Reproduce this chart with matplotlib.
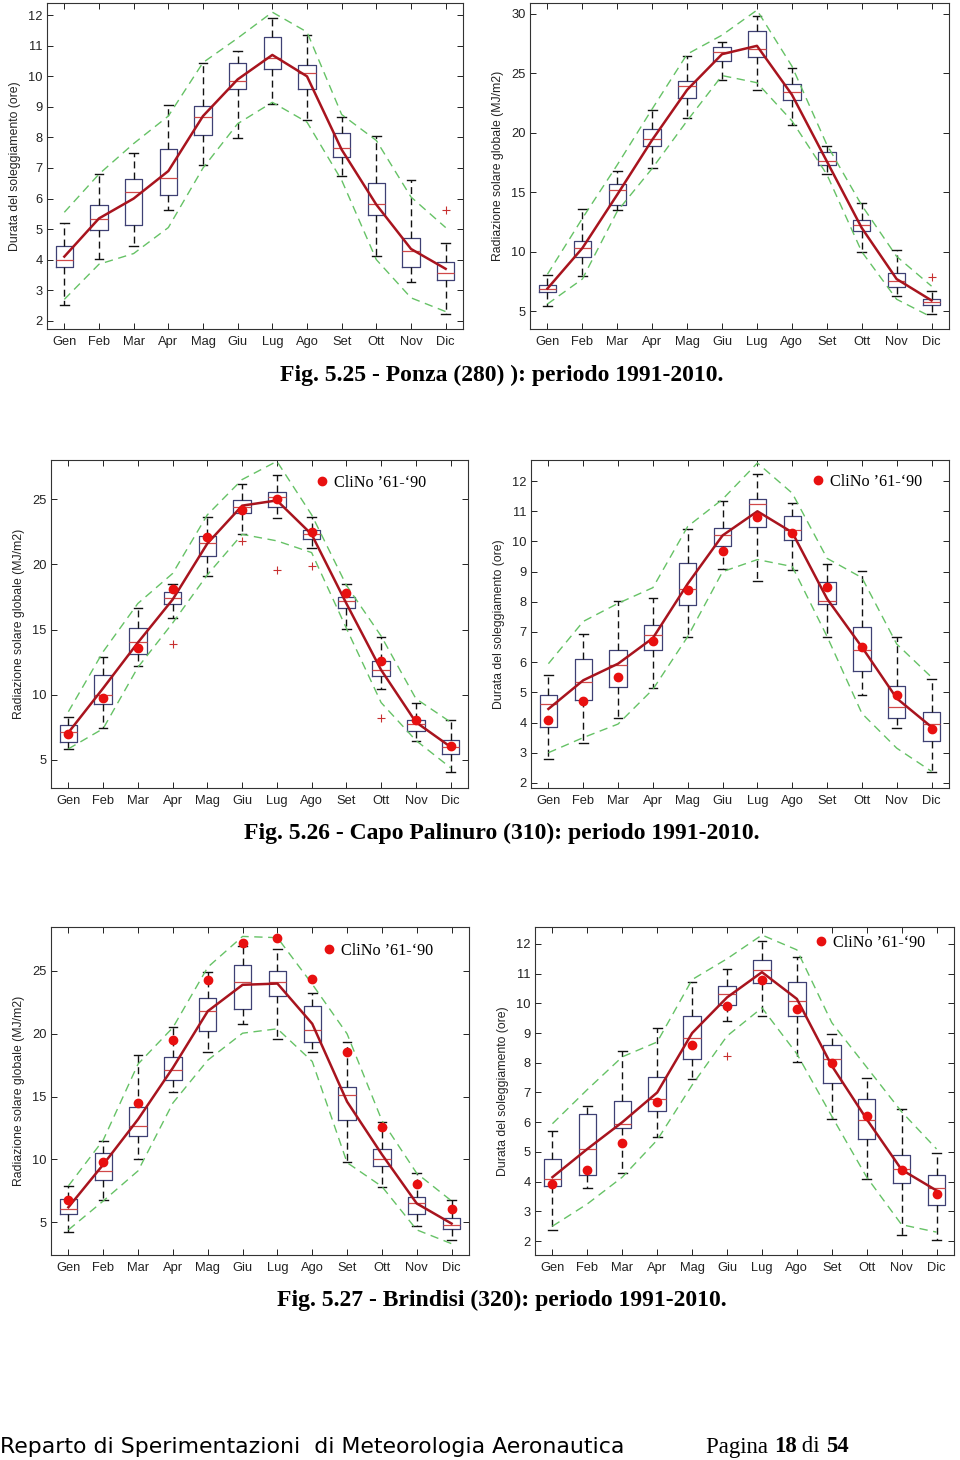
import numpy as np
import matplotlib
matplotlib.use("Agg")
import matplotlib.pyplot as plt

mesi = ['Gen', 'Feb', 'Mar', 'Apr', 'Mag', 'Giu', 'Lug', 'Ago', 'Set', 'Ott', 'Nov', 'Dic']

# ---- Ponza, soleggiamento (ore)
ponza_ore_wlo = [2.5, 4.02, 4.45, 5.61, 7.1, 7.99, 9.08, 8.57, 6.74, 4.13, 3.26, 2.23]
ponza_ore_q1 = [3.75, 4.98, 5.13, 6.12, 8.07, 9.57, 10.23, 9.6, 7.37, 5.47, 3.75, 3.32]
ponza_ore_med = [4.0, 5.33, 6.2, 6.67, 8.67, 9.86, 10.6, 10.11, 7.65, 5.81, 4.29, 3.55]
ponza_ore_q3 = [4.45, 5.8, 6.64, 7.62, 9.04, 10.43, 11.28, 10.38, 8.16, 6.51, 4.7, 3.92]
ponza_ore_whi = [5.21, 6.8, 7.5, 9.05, 10.42, 10.82, 11.91, 11.35, 8.67, 8.04, 6.61, 4.55]
ponza_ore_media = [4.1, 5.35, 6.0, 6.9, 8.7, 9.9, 10.7, 10.0, 7.6, 5.8, 4.35, 3.7]
ponza_ore_sup = [5.55, 6.8, 7.8, 8.7, 10.45, 11.25, 12.1, 11.45, 8.75, 7.9, 6.05, 5.05]
ponza_ore_inf = [2.7, 3.85, 4.2, 5.05, 7.0, 8.45, 9.15, 8.5, 6.6, 4.0, 2.75, 2.3]
ponza_ore_out = [(12, 5.63)]

# ---- Ponza, radiazione (MJ/m2)
ponza_rad_wlo = [5.45, 7.96, 13.54, 17.05, 21.24, 24.39, 23.58, 20.65, 16.55, 9.99, 6.31, 4.78]
ponza_rad_q1 = [6.59, 9.52, 13.96, 18.9, 22.91, 26.04, 26.37, 22.77, 17.25, 11.72, 7.0, 5.5]
ponza_rad_med = [6.84, 10.33, 15.21, 19.43, 23.89, 26.79, 27.07, 23.44, 17.61, 12.2, 7.57, 5.81]
ponza_rad_q3 = [7.18, 10.92, 15.69, 20.32, 24.34, 27.24, 28.52, 24.11, 18.34, 12.67, 8.21, 6.06]
ponza_rad_whi = [8.04, 13.57, 16.77, 21.88, 26.46, 27.66, 29.78, 25.4, 18.87, 14.1, 10.1, 6.67]
ponza_rad_media = [6.9, 10.3, 14.8, 19.4, 23.6, 26.6, 27.3, 23.2, 17.6, 12.0, 7.7, 5.9]
ponza_rad_sup = [8.1, 12.8, 17.3, 22.0, 26.6, 28.2, 30.3, 25.6, 19.0, 13.9, 9.6, 7.1]
ponza_rad_inf = [5.6, 7.7, 13.4, 17.0, 21.0, 24.8, 24.2, 21.0, 16.5, 10.0, 6.0, 4.5]
ponza_rad_out = [(12, 7.9)]

# ---- Capo Palinuro, radiazione (MJ/m2)
palinuro_rad_wlo = [5.87, 7.45, 12.19, 15.87, 19.13, 22.3, 23.57, 21.22, 15.05, 10.41, 6.48, 4.06]
palinuro_rad_q1 = [6.38, 9.29, 13.14, 16.94, 20.61, 23.9, 24.41, 21.94, 16.63, 11.43, 7.19, 5.46]
palinuro_rad_med = [7.12, 10.0, 14.08, 17.4, 21.66, 24.41, 25.2, 22.35, 17.22, 11.89, 7.76, 6.0]
palinuro_rad_q3 = [7.65, 11.48, 15.08, 17.86, 22.19, 24.95, 25.56, 22.6, 17.53, 12.6, 8.04, 6.51]
palinuro_rad_whi = [8.27, 12.88, 16.63, 18.5, 23.65, 26.17, 26.84, 23.65, 18.5, 14.46, 9.39, 8.09]
palinuro_rad_media = [7.1, 10.5, 14.0, 17.3, 21.6, 24.5, 24.9, 22.3, 17.0, 11.9, 7.9, 6.0]
palinuro_rad_sup = [8.7, 13.3, 17.0, 19.3, 23.8, 26.5, 27.9, 23.8, 18.4, 14.5, 9.7, 7.9]
palinuro_rad_inf = [5.85, 7.4, 12.1, 15.5, 19.2, 22.3, 21.8, 20.9, 15.1, 9.4, 6.5, 4.4]
palinuro_rad_out = [(4, 13.88), (6, 21.79), (7, 19.57), (8, 19.9), (10, 8.21)]
palinuro_rad_clino = [7.02, 9.72, 13.6, 18.14, 22.12, 24.13, 25.0, 22.47, 17.83, 12.6, 8.09, 6.07]

# ---- Capo Palinuro, soleggiamento (ore)
palinuro_ore_wlo = [2.8, 3.31, 4.16, 5.14, 6.85, 9.1, 8.69, 9.06, 6.84, 4.92, 3.82, 2.35]
palinuro_ore_q1 = [3.84, 4.73, 5.18, 6.41, 7.88, 9.85, 10.49, 10.05, 7.92, 5.72, 4.15, 3.38]
palinuro_ore_med = [4.61, 5.33, 5.89, 6.91, 8.42, 10.21, 11.24, 10.38, 8.03, 6.39, 4.5, 3.95]
palinuro_ore_q3 = [4.9, 6.1, 6.41, 7.24, 9.3, 10.46, 11.42, 10.85, 8.67, 7.17, 5.2, 4.35]
palinuro_ore_whi = [5.58, 6.94, 8.03, 8.14, 10.41, 11.33, 12.22, 11.29, 9.24, 9.01, 6.85, 5.45]
palinuro_ore_media = [4.45, 5.4, 5.95, 6.8, 8.6, 10.2, 11.0, 10.3, 8.1, 6.5, 4.8, 3.85]
palinuro_ore_sup = [5.95, 7.35, 7.95, 8.47, 10.5, 11.4, 12.6, 11.6, 9.44, 8.8, 6.6, 5.5]
palinuro_ore_inf = [3.0, 3.5, 3.95, 5.1, 6.85, 9.0, 9.4, 9.17, 6.85, 4.3, 3.15, 2.38]
palinuro_ore_out = []
palinuro_ore_clino = [4.09, 4.7, 5.5, 6.71, 8.39, 9.68, 10.8, 10.29, 8.5, 6.5, 4.9, 3.8]

# ---- Brindisi, radiazione (MJ/m2)
brindisi_rad_wlo = [4.26, 6.75, 10.04, 15.4, 18.53, 20.81, 19.59, 18.55, 9.83, 7.79, 4.73, 3.62]
brindisi_rad_q1 = [5.69, 8.4, 11.9, 16.33, 20.23, 21.95, 23.01, 19.38, 13.17, 9.51, 5.69, 4.47]
brindisi_rad_med = [6.09, 9.11, 12.64, 17.1, 21.84, 24.15, 24.15, 20.31, 15.13, 10.07, 6.51, 4.81]
brindisi_rad_q3 = [6.86, 10.52, 14.15, 18.16, 22.88, 25.48, 25.03, 22.21, 15.77, 10.81, 7.02, 5.32]
brindisi_rad_whi = [7.92, 11.45, 18.29, 20.52, 24.92, 26.96, 26.78, 23.28, 19.38, 12.98, 8.9, 6.75]
brindisi_rad_media = [6.2, 9.6, 13.2, 17.3, 21.8, 23.9, 24.0, 20.8, 14.6, 10.4, 6.5, 4.9]
brindisi_rad_sup = [7.9, 11.55, 17.6, 20.5, 25.3, 27.75, 27.65, 23.95, 20.0, 13.1, 8.9, 6.7]
brindisi_rad_inf = [4.4, 6.7, 9.1, 14.5, 17.9, 20.05, 20.4, 17.8, 9.75, 7.85, 4.4, 3.3]
brindisi_rad_out = []
brindisi_rad_clino = [6.8, 9.8, 14.47, 19.5, 24.31, 27.23, 27.63, 24.39, 18.53, 12.56, 8.08, 6.09]

# ---- Brindisi, soleggiamento (ore)
brindisi_ore_wlo = [2.36, 3.79, 4.28, 5.51, 7.47, 9.39, 9.58, 8.02, 6.1, 4.09, 2.2, 2.03]
brindisi_ore_q1 = [3.86, 4.23, 5.79, 6.39, 8.14, 9.93, 10.67, 9.58, 7.33, 5.45, 3.97, 3.2]
brindisi_ore_med = [4.1, 5.1, 5.93, 6.78, 8.85, 10.33, 11.11, 10.09, 8.14, 6.07, 4.41, 3.79]
brindisi_ore_q3 = [4.77, 6.29, 6.71, 7.53, 9.57, 10.57, 11.47, 10.73, 8.6, 6.79, 4.88, 4.23]
brindisi_ore_whi = [5.71, 6.56, 8.4, 9.17, 10.73, 11.16, 12.1, 11.57, 8.96, 7.49, 6.43, 4.98]
brindisi_ore_media = [4.15, 5.1, 6.0, 7.0, 9.0, 10.2, 11.05, 10.15, 7.9, 6.1, 4.4, 3.7]
brindisi_ore_sup = [5.95, 7.1, 8.2, 8.7, 10.8, 11.5, 12.3, 11.8, 9.35, 7.85, 6.35, 5.1]
brindisi_ore_inf = [2.5, 3.25, 4.15, 5.4, 7.25, 8.9, 9.85, 8.3, 6.2, 4.15, 2.55, 2.3]
brindisi_ore_out = [(6, 8.22)]
brindisi_ore_clino = [3.91, 4.4, 5.31, 6.69, 8.6, 9.9, 10.8, 9.8, 8.0, 6.2, 4.39, 3.6]

didascalie = ['Fig. 5.25 - Ponza (280) ): periodo 1991-2010.',
              'Fig. 5.26 - Capo Palinuro (310): periodo 1991-2010.',
              'Fig. 5.27 - Brindisi (320): periodo 1991-2010.']
lab_ore = 'Durata del soleggiamento (ore)'
lab_rad = 'Radiazione solare globale (MJ/m2)'
leg_clino = 'CliNo \u201961-\u201890'

W, H = 960, 1460
fig = plt.figure(figsize=(W / 100, H / 100), dpi=100)
fig.patch.set_facecolor('white')


def pannello(px, wlo, q1, med, q3, whi, media, sup, inf, out, ylim, yticks, ylabel,
             clino=None, legpos=None):
    x0, y0, x1, y1 = px
    ax = fig.add_axes([x0 / W, (H - y1) / H, (x1 - x0) / W, (y1 - y0) / H])
    x = np.arange(1, 13)
    stats = []
    for i in range(12):
        fl = [v for (m, v) in out if m == i + 1]
        stats.append(dict(whislo=wlo[i], q1=q1[i], med=med[i], q3=q3[i], whishi=whi[i], fliers=fl))
    ax.bxp(stats, positions=x, widths=0.5, capwidths=0.25, manage_ticks=False,
           boxprops=dict(color='#3e4074', lw=0.9),
           medianprops=dict(color='#d04848', lw=0.9),
           whiskerprops=dict(color='#111111', lw=1.0, linestyle=(0, (5, 3))),
           capprops=dict(color='#111111', lw=1.0),
           flierprops=dict(marker='+', markeredgecolor='#c83030', markersize=6, markeredgewidth=0.8))
    ax.plot(x, sup, color='#66c266', lw=1.0, dashes=(6, 4))
    ax.plot(x, inf, color='#66c266', lw=1.0, dashes=(6, 4))
    ax.plot(x, media, color='#a8141e', lw=1.8, zorder=4)
    if clino is not None:
        ax.plot(x, clino, 'o', color='#e81010', markersize=6, zorder=5, label=leg_clino)
        # legend anchored so the dot lands where it is in the page
        dx, dy = legpos
        fx = (dx - 6 - x0) / (x1 - x0)
        fy = (y1 - dy) / (y1 - y0)
        ax.legend(loc='center left', bbox_to_anchor=(fx, fy), frameon=False, numpoints=1,
                  handletextpad=0.3, borderpad=0, borderaxespad=0, handlelength=0.8,
                  prop=dict(family='Liberation Serif', size=11.6))
    ax.set_xlim(0.5, 12.5)
    ax.set_ylim(*ylim)
    ax.set_xticks(x, mesi)
    ax.set_yticks(yticks)
    ax.tick_params(direction='in', top=True, right=True, length=4, width=0.7,
                   labelsize=9.3, colors='#222222', pad=3)
    ax.tick_params(axis='x', pad=5)
    for lab in ax.get_xticklabels() + ax.get_yticklabels():
        lab.set_family('Liberation Sans')
    for s in ax.spines.values():
        s.set_color('#333333')
        s.set_linewidth(0.8)
    ax.set_ylabel(ylabel, fontsize=8.8, family='Liberation Sans', color='#222222', labelpad=5)
    return ax


pannello((47, 3, 463, 329), ponza_ore_wlo, ponza_ore_q1, ponza_ore_med, ponza_ore_q3, ponza_ore_whi,
         ponza_ore_media, ponza_ore_sup, ponza_ore_inf, ponza_ore_out, (1.73, 12.4), range(2, 13), lab_ore)
pannello((530, 3, 949, 329), ponza_rad_wlo, ponza_rad_q1, ponza_rad_med, ponza_rad_q3, ponza_rad_whi,
         ponza_rad_media, ponza_rad_sup, ponza_rad_inf, ponza_rad_out, (3.5, 30.9), range(5, 31, 5), lab_rad)
pannello((51, 460, 468, 788), palinuro_rad_wlo, palinuro_rad_q1, palinuro_rad_med, palinuro_rad_q3,
         palinuro_rad_whi, palinuro_rad_media, palinuro_rad_sup, palinuro_rad_inf, palinuro_rad_out,
         (2.85, 28.0), range(5, 26, 5), lab_rad, palinuro_rad_clino, (322, 483))
pannello((531, 460, 949, 788), palinuro_ore_wlo, palinuro_ore_q1, palinuro_ore_med, palinuro_ore_q3,
         palinuro_ore_whi, palinuro_ore_media, palinuro_ore_sup, palinuro_ore_inf, palinuro_ore_out,
         (1.83, 12.7), range(2, 13), lab_ore, palinuro_ore_clino, (818, 482))
pannello((51, 927, 469, 1255), brindisi_rad_wlo, brindisi_rad_q1, brindisi_rad_med, brindisi_rad_q3,
         brindisi_rad_whi, brindisi_rad_media, brindisi_rad_sup, brindisi_rad_inf, brindisi_rad_out,
         (2.4, 28.5), range(5, 26, 5), lab_rad, brindisi_rad_clino, (329, 951))
pannello((535, 927, 954, 1255), brindisi_ore_wlo, brindisi_ore_q1, brindisi_ore_med, brindisi_ore_q3,
         brindisi_ore_whi, brindisi_ore_media, brindisi_ore_sup, brindisi_ore_inf, brindisi_ore_out,
         (1.53, 12.57), range(2, 13), lab_ore, brindisi_ore_clino, (821, 943))

# didascalie
for testo, yc in zip(didascalie, [375, 833, 1300]):
    fig.text(502 / W, 1 - yc / H, testo, ha='center', va='center',
             family='Liberation Serif', weight='bold', fontsize=17)

# pie' di pagina
fig.text(0, 1 - 1447 / H, 'Reparto di Sperimentazioni  di Meteorologia Aeronautica',
         ha='left', va='center', family='DejaVu Sans', fontsize=15.8)

r = fig.canvas.get_renderer()
xpos = 706
for pezzo, peso in [('Pagina ', 'normal'), ('18', 'bold'), (' di ', 'normal'), ('54', 'bold')]:
    t = fig.text(xpos / W, 1 - 1447 / H, pezzo, ha='left', va='center',
                 family='Liberation Serif', weight=peso, fontsize=16.4)
    xpos += t.get_window_extent(renderer=r).width

fig.savefig('out.png', dpi=100)
